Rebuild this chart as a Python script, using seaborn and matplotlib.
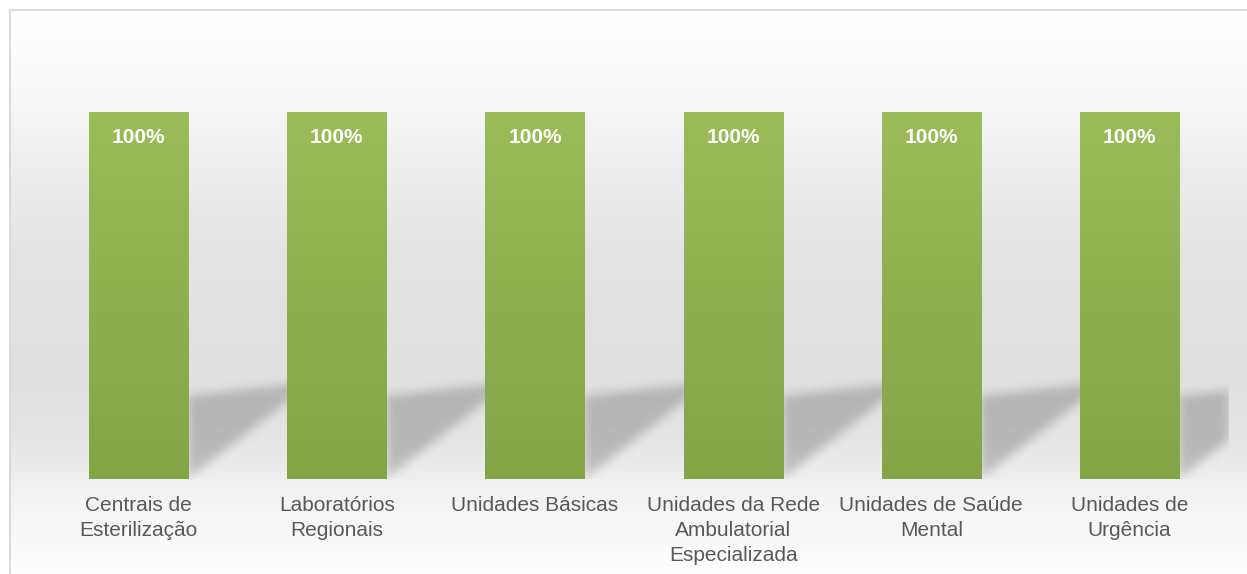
import numpy as np
import matplotlib
matplotlib.use("Agg")
import matplotlib.pyplot as plt
import seaborn as sns
from matplotlib.colors import to_rgb

# ---- data -------------------------------------------------------------
categories = [
    "Centrais de\nEsterilização",
    "Laboratórios\nRegionais",
    "Unidades Básicas",
    "Unidades da Rede\nAmbulatorial\nEspecializada",
    "Unidades de Saúde\nMental",
    "Unidades de\nUrgência",
]
values = [100, 100, 100, 100, 100, 100]
value_labels = [f"{v:.0f}%" for v in values]

# ---- style ------------------------------------------------------------
BAR_TOP = "#9cbb59"
BAR_BOTTOM = "#84a446"
TEXT_GRAY = "#595959"
FRAME = "#d9d9d9"

sns.set_theme(style="white")
plt.rcParams["font.family"] = ["Liberation Sans", "DejaVu Sans"]

W, H = 1247, 574
fig = plt.figure(figsize=(W / 100, H / 100), dpi=100)

# ---- background: soft vertical gray gradient inside a thin frame --------
stop_y = np.array([0, 10, 80, 150, 250, 380, 440, 490, 574])
stop_v = np.array([255, 255, 250, 240, 228, 224, 229, 242, 254])
rows = np.interp(np.arange(H), stop_y, stop_v) / 255.0
canvas = np.ones((H, W, 3))
canvas[10:, 10:, :] = rows[10:, None, None]
frame_rgb = np.array(to_rgb(FRAME))
canvas[9:11, 9:, :] = frame_rgb      # top edge of the frame
canvas[9:, 9:11, :] = frame_rgb      # left edge of the frame
fig.figimage(canvas, xo=0, yo=0, origin="upper", zorder=0)

# ---- bars -------------------------------------------------------------
ax = fig.add_axes([39.4 / W, (H - 479) / H, 1189.2 / W, (479 - 38.6) / H], zorder=1)
ax.set_facecolor("none")
sns.barplot(x=categories, y=values, color=BAR_TOP, width=0.5, saturation=1,
            ax=ax)
ax.set_ylim(0, 120)
xlim = ax.get_xlim()
ax.set_xlim(xlim)

# vertical gradient fill for each bar
top_rgb, bot_rgb = np.array(to_rgb(BAR_TOP)), np.array(to_rgb(BAR_BOTTOM))
t = np.linspace(0, 1, 256)[:, None]
grad = (top_rgb * (1 - t) + bot_rgb * t)[:, None, :]
bars = list(ax.patches)
for p in bars:
    x0, w, h = p.get_x(), p.get_width(), p.get_height()
    ax.imshow(grad, extent=[x0, x0 + w, 0, h], aspect="auto", zorder=2,
              interpolation="bilinear")
    p.set_edgecolor("none")

# ---- perspective drop shadows behind the bars --------------------------
nx, ny = 1189, 441
xs = np.linspace(xlim[0], xlim[1], nx)
ys = np.linspace(120, 0, ny)
X, Y = np.meshgrid(xs, ys)
mask = np.zeros((ny, nx))
for p in bars:
    xr, w, h = p.get_x() + p.get_width(), p.get_width(), p.get_height()
    length = 1.25 * w
    tt = (X - xr) / length
    inside = (tt >= 0) & (tt <= 1) & (Y >= tt * 0.262 * h) & \
             (Y <= 0.226 * h + tt * 0.036 * h)
    mask[inside] = 1.0


def blur(a, sigma):
    k = np.arange(-int(3 * sigma), int(3 * sigma) + 1)
    ker = np.exp(-k ** 2 / (2 * sigma ** 2))
    ker /= ker.sum()
    a = np.apply_along_axis(lambda r: np.convolve(r, ker, mode="same"), 1, a)
    a = np.apply_along_axis(lambda c: np.convolve(c, ker, mode="same"), 0, a)
    return a


soft = blur(mask, 5.0)
shadow = np.zeros((ny, nx, 4))
shadow[..., 3] = 0.2 * soft
ax.imshow(shadow, extent=[xlim[0], xlim[1], 0, 120], aspect="auto", zorder=0.5,
          interpolation="bilinear")
ax.set_xlim(xlim)
ax.set_ylim(0, 120)

# ---- value labels -----------------------------------------------------
for p, lbl in zip(bars, value_labels):
    cx = p.get_x() + p.get_width() / 2
    ax.annotate(lbl, (cx, p.get_height()), xytext=(0, -18.5),
                textcoords="offset points", ha="center", va="center",
                color="white", fontweight="bold", fontsize=15, zorder=3)

# ---- axes cosmetics ---------------------------------------------------
sns.despine(ax=ax, left=True, bottom=True)
ax.set_yticks([])
ax.set_xlabel("")
ax.set_ylabel("")
ax.tick_params(axis="x", length=0, pad=12, labelsize=15, labelcolor=TEXT_GRAY)
for lbl in ax.get_xticklabels():
    lbl.set_linespacing(1.42)
ax.grid(False)

fig.savefig("out.png", dpi=100)
